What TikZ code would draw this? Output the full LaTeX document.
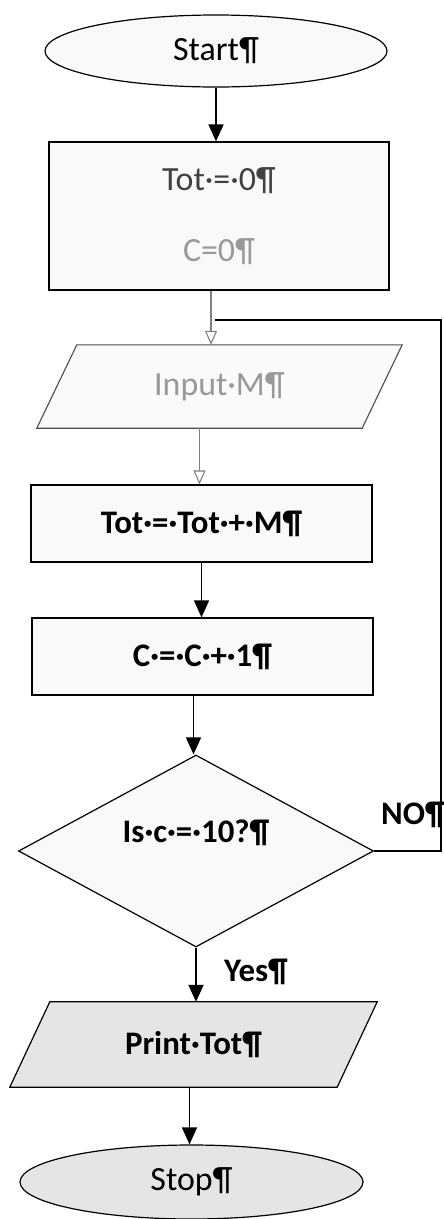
\documentclass[tikz,border=0pt]{standalone}
\usepackage{fontspec}
\setmainfont{Carlito}
\usetikzlibrary{shapes.geometric,arrows.meta,backgrounds}
\begin{document}
\begin{tikzpicture}[x=1bp,y=-1bp,
  every node/.style={font=\fontsize{34}{38}\selectfont},
  shp/.style={draw=black, line width=1.2bp, fill=gray!5},
  boxnode/.style={shp, rectangle, inner sep=0pt},
  term/.style={shp, ellipse, inner sep=0pt},
  decnode/.style={shp, diamond, aspect=1.85, inner sep=0pt},
  plain/.style={rectangle, inner sep=0pt},
  bold/.style={font=\fontsize{33}{38}\selectfont\bfseries},
  ar/.style={-{Triangle[length=17bp,width=15bp]}, line width=1.5bp},
  faint/.style={-{Triangle[length=14bp,width=12bp,open]}, line width=1.1bp, draw=black!50}
]
\useasboundingbox (0,0) rectangle (444,1219);

\node[term, minimum width=342bp, minimum height=72bp] (start) at (216,51) {Start¶};
\node[boxnode, minimum width=340bp, minimum height=148bp, align=center] (init) at (219,216)
  {{\color{black!75}Tot·=·0¶}\\[33bp]{\color{black!40}C=0¶}};
\node[plain, minimum width=365bp, minimum height=83bp, text=black!40] (inp) at (219.5,386.5) {Input·M¶};
\node[boxnode, minimum width=341bp, minimum height=77bp, bold] (add) at (201.5,523.5) {Tot·=·Tot·+·M¶};
\node[boxnode, minimum width=341bp, minimum height=77bp, bold] (inc) at (202.5,656.5) {C·=·C·+·1¶};
\node[decnode, minimum width=355bp, minimum height=192bp, bold, text height=22bp, text depth=40bp] (dec) at (196,851) {Is·c·=·10?¶};
\node[plain, minimum width=367bp, minimum height=85bp, bold] (prt) at (193.5,1044.5) {Print·Tot¶};
\node[term, fill=gray!20, minimum width=343bp, minimum height=74bp] (stop) at (191.5,1182) {Stop¶};

\begin{scope}[on background layer]
  \draw[line width=1.1bp, draw=black!70, fill=gray!4]
    ([xshift=40bp]inp.north west) -- (inp.north east) -- ([xshift=-40bp]inp.south east) -- (inp.south west) -- cycle;
  \draw[shp, fill=gray!20]
    ([xshift=40bp]prt.north west) -- (prt.north east) -- ([xshift=-40bp]prt.south east) -- (prt.south west) -- cycle;
\end{scope}

\node[bold] (no) at (413,815) {NO¶};
\node[bold] (yes) at (256,972) {Yes¶};

\coordinate (merge) at (215,320);
\coordinate (rt) at (441,851);

\draw[ar] (start.south) -- (start.south |- init.north);
\draw[faint] ([xshift=-8bp]init.south) -- ([xshift=-8bp]init.south |- inp.north);
\draw[faint] ([xshift=-20bp]inp.south) -- ([xshift=-20bp]inp.south |- add.north);
\draw[ar] (add.south) -- (add.south |- inc.north);
\draw[ar] ([xshift=-9bp]inc.south) -- ([xshift=-9bp]inc.south |- dec.north);
\draw[ar] (dec.south) -- (dec.south |- prt.north);
\draw[ar] ([xshift=-4bp]prt.south) -- ([xshift=-4bp]prt.south |- stop.north);
\draw[line width=1.4bp] (dec.east) -- (rt) |- (merge);
\end{tikzpicture}
\end{document}
